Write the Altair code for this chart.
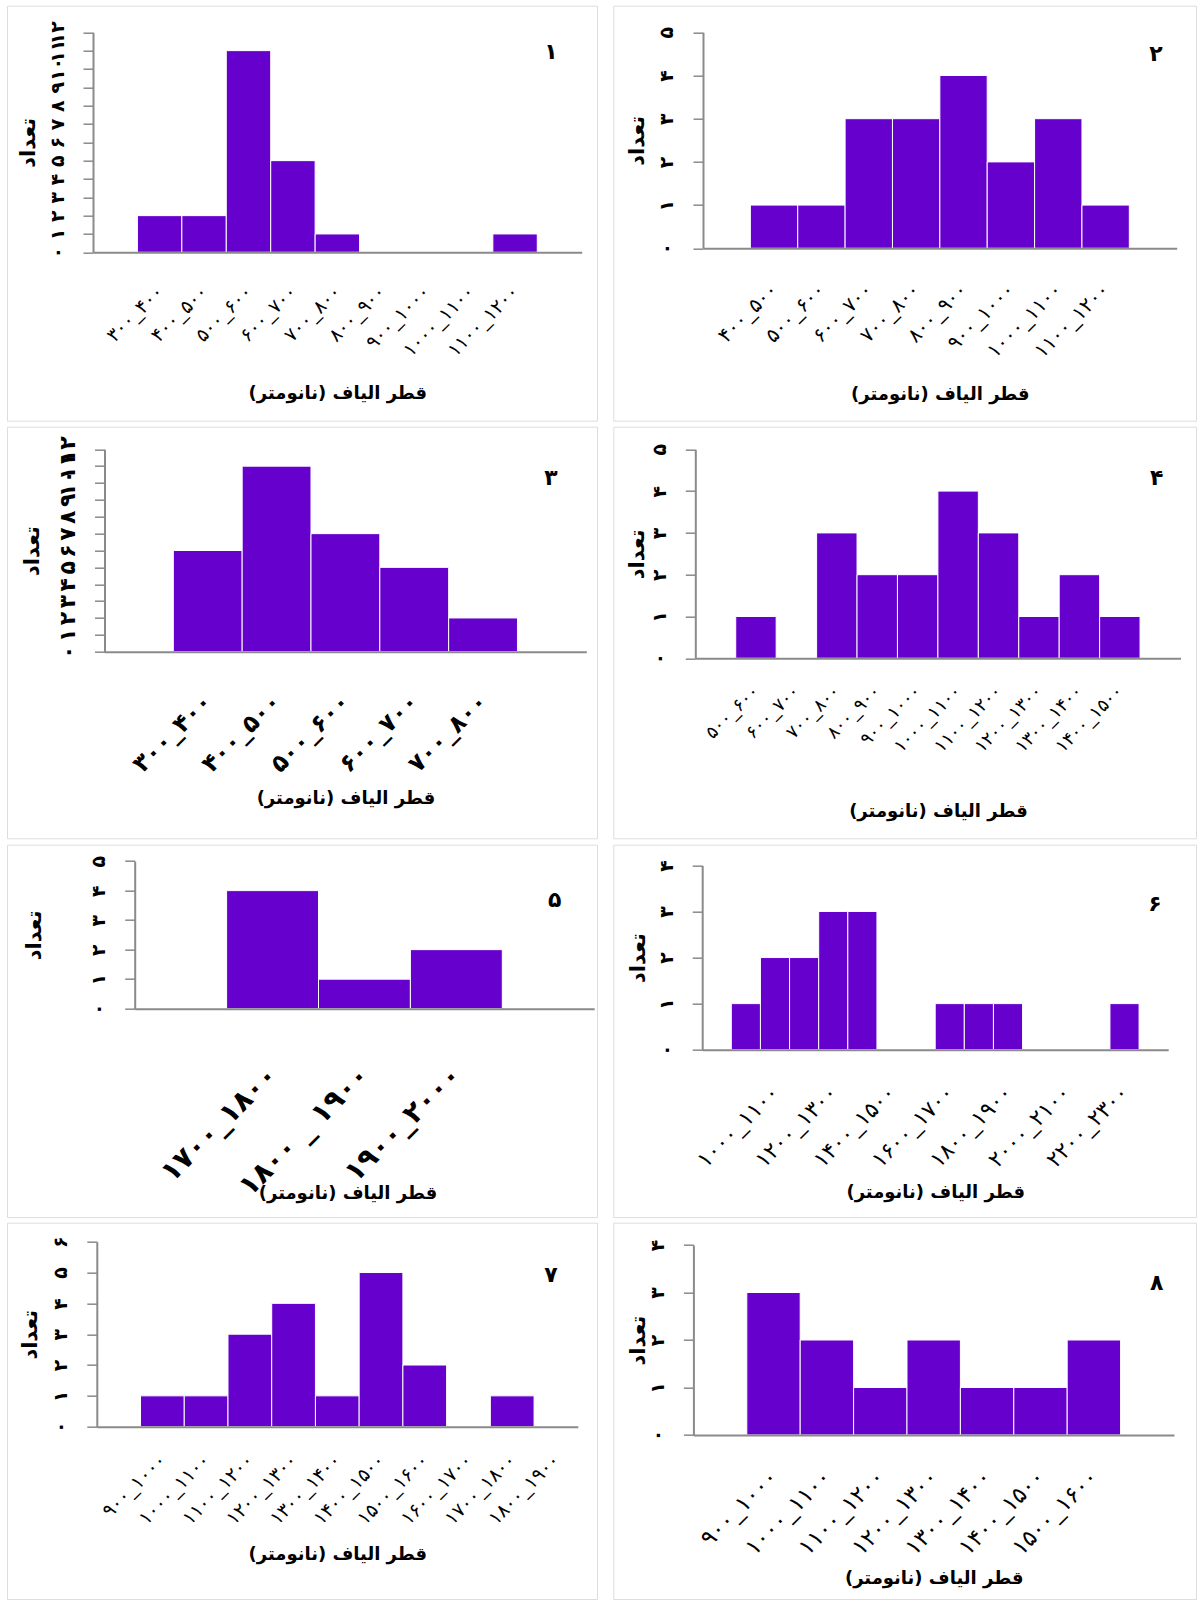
import json

import altair as alt
import pandas as pd

FONT = "DejaVu Sans"
BAR_COLOR = "#6600cc"
LINE_GRAY = "#8a8a8a"

X_TITLE = "قطر الیاف (نانومتر)\u200f"
Y_TITLE = "تعداد"
PANEL_NUMBERS = ["۱", "۲", "۳", "۴", "۵", "۶", "۷", "۸"]
FA_INTS = ["۰", "۱", "۲", "۳", "۴", "۵", "۶", "۷", "۸", "۹", "۱۰", "۱۱", "۱۲"]

# ---- fibre-diameter histograms: bin labels and counts ----
labels_1 = ["۳۰۰_۴۰۰", "۴۰۰_۵۰۰", "۵۰۰_۶۰۰", "۶۰۰_۷۰۰", "۷۰۰_۸۰۰",
            "۸۰۰_۹۰۰", "۹۰۰_۱۰۰۰", "۱۰۰۰_۱۱۰۰", "۱۱۰۰_۱۲۰۰"]
counts_1 = [2, 2, 11, 5, 1, 0, 0, 0, 1]

labels_2 = ["۴۰۰_۵۰۰", "۵۰۰_۶۰۰", "۶۰۰_۷۰۰", "۷۰۰_۸۰۰", "۸۰۰_۹۰۰",
            "۹۰۰_۱۰۰۰", "۱۰۰۰_۱۱۰۰", "۱۱۰۰_۱۲۰۰"]
counts_2 = [1, 1, 3, 3, 4, 2, 3, 1]

labels_3 = ["۳۰۰_۴۰۰", "۴۰۰_۵۰۰", "۵۰۰_۶۰۰", "۶۰۰_۷۰۰", "۷۰۰_۸۰۰"]
counts_3 = [6, 11, 7, 5, 2]

labels_4 = ["۵۰۰_۶۰۰", "۶۰۰_۷۰۰", "۷۰۰_۸۰۰", "۸۰۰_۹۰۰", "۹۰۰_۱۰۰۰",
            "۱۰۰۰_۱۱۰۰", "۱۱۰۰_۱۲۰۰", "۱۲۰۰_۱۳۰۰", "۱۳۰۰_۱۴۰۰", "۱۴۰۰_۱۵۰۰"]
counts_4 = [1, 0, 3, 2, 2, 4, 3, 1, 2, 1]

labels_5 = ["۱۷۰۰_۱۸۰۰", "۱۸۰۰ _ ۱۹۰۰", "۱۹۰۰_۲۰۰۰"]
counts_5 = [4, 1, 2]

labels_6 = ["۹۰۰_۱۰۰۰", "۱۰۰۰_۱۱۰۰", "۱۱۰۰_۱۲۰۰", "۱۲۰۰_۱۳۰۰", "۱۳۰۰_۱۴۰۰",
            "۱۴۰۰_۱۵۰۰", "۱۵۰۰_۱۶۰۰", "۱۶۰۰_۱۷۰۰", "۱۷۰۰_۱۸۰۰", "۱۸۰۰_۱۹۰۰",
            "۱۹۰۰_۲۰۰۰", "۲۰۰۰_۲۱۰۰", "۲۱۰۰_۲۲۰۰", "۲۲۰۰_۲۳۰۰"]
counts_6 = [1, 2, 2, 3, 3, 0, 0, 1, 1, 1, 0, 0, 0, 1]

labels_7 = ["۹۰۰_۱۰۰۰", "۱۰۰۰_۱۱۰۰", "۱۱۰۰_۱۲۰۰", "۱۲۰۰_۱۳۰۰", "۱۳۰۰_۱۴۰۰",
            "۱۴۰۰_۱۵۰۰", "۱۵۰۰_۱۶۰۰", "۱۶۰۰_۱۷۰۰", "۱۷۰۰_۱۸۰۰", "۱۸۰۰_۱۹۰۰"]
counts_7 = [1, 1, 3, 4, 1, 5, 2, 0, 1, 0]

labels_8 = ["۹۰۰_۱۰۰۰", "۱۰۰۰_۱۱۰۰", "۱۱۰۰_۱۲۰۰", "۱۲۰۰_۱۳۰۰", "۱۳۰۰_۱۴۰۰",
            "۱۴۰۰_۱۵۰۰", "۱۵۰۰_۱۶۰۰"]
counts_8 = [3, 2, 1, 2, 1, 1, 2]

y_max = [12, 5, 12, 5, 5, 4, 6, 4]
# category slots on the x axis (one empty slot before the first bin)
slots = [11, 10, 7, 12, 5, 16, 11, 9]
# which bins carry a tick label
shown = [
    list(range(9)), list(range(8)), list(range(5)), list(range(10)),
    list(range(3)), list(range(1, 14, 2)), list(range(10)), list(range(7)),
]

# ---- page geometry (absolute page pixels) ----
FRAME_X = [(7.0, 597.0), (613.3, 1196.0)]
FRAME_Y = [(5.7, 420.7), (426.7, 838.3), (844.3, 1216.7), (1222.7, 1599.0)]

# plot-area left, top, width, height of each panel
plot_box = [
    (93.0, 32.3, 488.7, 220.0),
    (703.0, 32.3, 473.7, 216.0),
    (104.5, 449.3, 481.8, 202.4),
    (695.3, 449.3, 485.2, 209.0),
    (134.7, 860.7, 459.5, 147.6),
    (702.2, 865.0, 466.0, 184.3),
    (96.8, 1241.7, 481.0, 185.0),
    (693.4, 1245.0, 480.6, 190.0),
]

# per-panel text styling
x_label_size = [19, 20, 24, 18, 28, 22, 19, 23]
x_label_pad = [36, 38, 46, 30, 62, 39, 30, 38]
x_label_weight = ["normal", "normal", "bold", "normal", "bold", "normal", "normal", "normal"]
y_label_size = [19, 19, 22, 19, 19, 19, 19, 19]
y_title_x = [-64.3, -65.0, -72.0, -57.3, -100.3, -64.0, -66.2, -55.3]
x_title_y = [141.0, 146.7, 146.6, 153.4, 185.0, 142.7, 128.3, 143.3]
x_title_x = [None, None, None, None, 212.8, None, None, None]
number_pos = [(458, 19.4), (453, 21.7), (446.5, 29), (461.5, 29),
              (420, 39.3), (452.8, 38.3), (454.2, 33.3), (463.4, 38.3)]

all_labels = [labels_1, labels_2, labels_3, labels_4, labels_5, labels_6, labels_7, labels_8]
all_counts = [counts_1, counts_2, counts_3, counts_4, counts_5, counts_6, counts_7, counts_8]

one_row = pd.DataFrame({"k": [0]})


def make_panel(i):
    """One framed histogram; the view itself is the frame and the
    plotting region inside it is set through the scale ranges."""
    labels = all_labels[i]
    counts = all_counts[i]
    ax, ay, w, h = plot_box[i]
    fx0, fx1 = FRAME_X[i % 2]
    fy0, fy1 = FRAME_Y[i // 2]
    frame_w, frame_h = fx1 - fx0, fy1 - fy0
    px, py = ax - fx0, ay - fy0  # plot origin inside the frame

    df = pd.DataFrame({
        "lo": [k + 1 for k in range(len(counts))],
        "hi": [k + 2 for k in range(len(counts))],
        "count": counts,
    })

    label_array = json.dumps(labels, ensure_ascii=False)
    x_axis = alt.Axis(
        values=[k + 1.5 for k in shown[i]],
        labelExpr=f"{label_array}[round(datum.value - 1.5)]",
        labelAngle=-45,
        labelAlign="right",
        labelBaseline="middle",
        labelPadding=x_label_pad[i],
        labelFont=FONT,
        labelFontSize=x_label_size[i],
        labelFontWeight=x_label_weight[i],
        labelColor="black",
        labelOverlap=False,
        labelFlush=False,
        ticks=False,
        tickSize=0,
        grid=False,
        domainColor=LINE_GRAY,
        domainWidth=2,
        offset=(py + h) - frame_h,
        title=X_TITLE,
        titleFont=FONT,
        titleFontSize=18,
        titleFontWeight="bold",
        titleColor="black",
        titleX=px + (x_title_x[i] if x_title_x[i] is not None else w / 2),
        titleY=x_title_y[i],
        titleAlign="center",
        titleBaseline="middle",
        zindex=1,
    )

    y_ints = json.dumps(FA_INTS, ensure_ascii=False)
    y_axis = alt.Axis(
        values=list(range(y_max[i] + 1)),
        labelExpr=f"{y_ints}[datum.value]",
        labelAngle=-90,
        labelAlign="center",
        labelBaseline="alphabetic",
        labelPadding=20,
        labelFont=FONT,
        labelFontSize=y_label_size[i],
        labelFontWeight="bold",
        labelColor="black",
        labelOverlap=False,
        labelFlush=False,
        tickSize=10,
        tickColor=LINE_GRAY,
        tickWidth=1.5,
        grid=False,
        domainColor=LINE_GRAY,
        domainWidth=2,
        offset=-px,
        title=Y_TITLE,
        titleFont=FONT,
        titleFontSize=21,
        titleFontWeight="bold",
        titleColor="black",
        titleAngle=270,
        titleX=y_title_x[i],
        titleY=py + h / 2,
        titleAlign="center",
        titleBaseline="middle",
        zindex=1,
    )

    bars = alt.Chart(df).mark_rect(
        color=BAR_COLOR, stroke="white", strokeWidth=1
    ).encode(
        x=alt.X("lo:Q", scale=alt.Scale(domain=[0, slots[i]], range=[px, px + w],
                                        nice=False, zero=False), axis=x_axis),
        x2="hi:Q",
        y=alt.Y("count:Q", scale=alt.Scale(domain=[0, y_max[i]], range=[py + h, py],
                                           nice=False, zero=False), axis=y_axis),
        y2=alt.datum(0),
    )

    nx, ny = number_pos[i]
    number = alt.Chart(one_row).mark_text(
        font=FONT, fontSize=22, fontWeight="bold", color="black",
        align="center", baseline="middle",
    ).encode(x=alt.value(px + nx), y=alt.value(py + ny), text=alt.value(PANEL_NUMBERS[i]))

    return alt.layer(bars, number).properties(width=frame_w, height=frame_h)


panels = [make_panel(i) for i in range(8)]
rows = [alt.hconcat(panels[2 * r], panels[2 * r + 1], spacing=14.3) for r in range(4)]

chart = alt.vconcat(*rows, spacing=4).properties(
    padding={"left": 6, "top": 4.7, "right": 0, "bottom": 0}
).configure_view(
    stroke=LINE_GRAY, strokeWidth=2
).configure(background="white")

chart.save("out.html", embed_options={"renderer": "svg", "actions": False})
